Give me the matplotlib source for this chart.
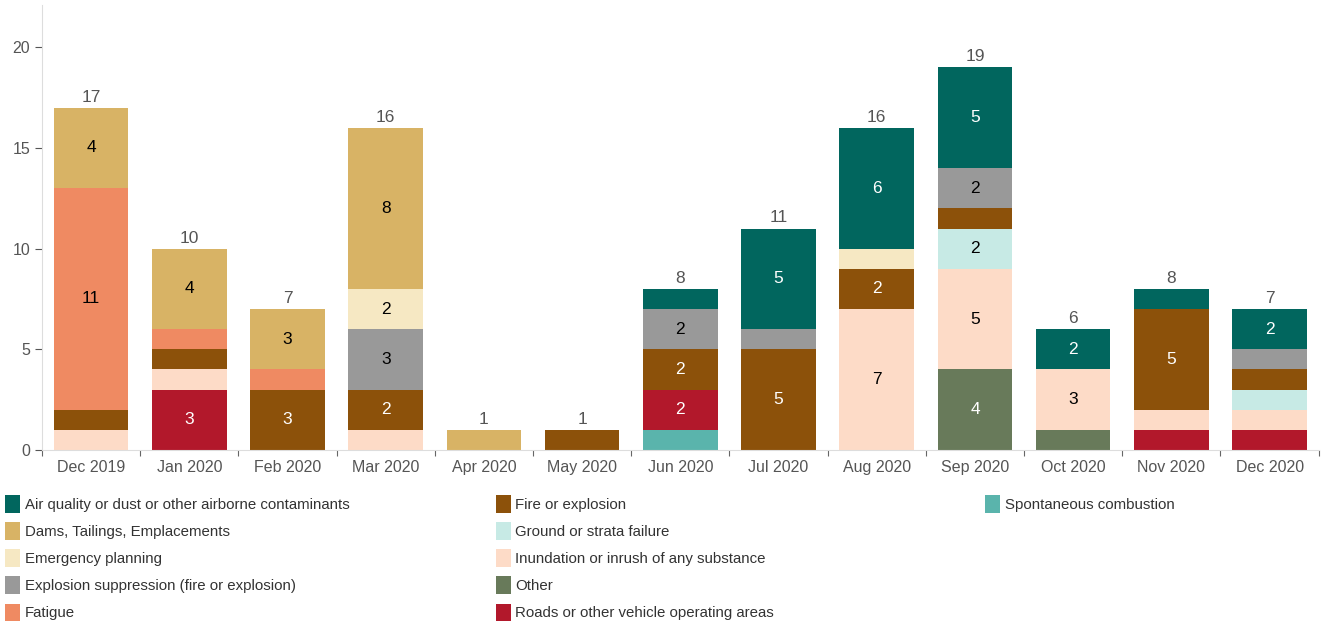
import numpy as np
import matplotlib
matplotlib.use("Agg")
import matplotlib.pyplot as plt
from matplotlib.patches import Patch

plt.rcParams['font.family'] = ['Liberation Sans', 'DejaVu Sans']

months = ['Dec 2019', 'Jan 2020', 'Feb 2020', 'Mar 2020', 'Apr 2020', 'May 2020',
          'Jun 2020', 'Jul 2020', 'Aug 2020', 'Sep 2020', 'Oct 2020', 'Nov 2020', 'Dec 2020']

# legend order (alphabetical); stacking goes the other way, bottom = last
categories = ['Air quality or dust or other airborne contaminants',
              'Dams, Tailings, Emplacements',
              'Emergency planning',
              'Explosion suppression (fire or explosion)',
              'Fatigue',
              'Fire or explosion',
              'Ground or strata failure',
              'Inundation or inrush of any substance',
              'Other',
              'Roads or other vehicle operating areas',
              'Spontaneous combustion']

air_quality   = [0, 0, 0, 0, 0, 0, 1, 5, 6, 5, 2, 1, 2]
dams          = [4, 4, 3, 8, 1, 0, 0, 0, 0, 0, 0, 0, 0]
emergency     = [0, 0, 0, 2, 0, 0, 0, 0, 1, 0, 0, 0, 0]
expl_supp     = [0, 0, 0, 3, 0, 0, 2, 1, 0, 2, 0, 0, 1]
fatigue       = [11, 1, 1, 0, 0, 0, 0, 0, 0, 0, 0, 0, 0]
fire          = [1, 1, 3, 2, 0, 1, 2, 5, 2, 1, 0, 5, 1]
ground        = [0, 0, 0, 0, 0, 0, 0, 0, 0, 2, 0, 0, 1]
inundation    = [1, 1, 0, 1, 0, 0, 0, 0, 7, 5, 3, 1, 1]
other         = [0, 0, 0, 0, 0, 0, 0, 0, 0, 4, 1, 0, 0]
roads         = [0, 3, 0, 0, 0, 0, 2, 0, 0, 0, 0, 1, 1]
spontaneous   = [0, 0, 0, 0, 0, 0, 1, 0, 0, 0, 0, 0, 0]

series = [air_quality, dams, emergency, expl_supp, fatigue, fire,
          ground, inundation, other, roads, spontaneous]
colors = ['#01665E', '#D8B365', '#F6E8C3', '#999999', '#EF8A62', '#8C510A',
          '#C7EAE5', '#FDDBC7', '#687A5A', '#B2182B', '#5AB4AC']
dark = {'#01665E', '#8C510A', '#687A5A', '#B2182B'}

fig = plt.figure(figsize=(13.32, 6.22), dpi=100)
ax = fig.add_axes([0.0315, 0.2765, 0.9585, 0.7155])

x = np.arange(len(months))
bottom = np.zeros(len(months))
for i in range(len(categories) - 1, -1, -1):
    vals = np.array(series[i], dtype=float)
    ax.bar(x, vals, 0.76, bottom=bottom, color=colors[i], linewidth=0)
    for j, v in enumerate(vals):
        if v >= 2:
            ax.text(x[j], bottom[j] + v / 2, str(int(v)), ha='center', va='center',
                    fontsize=12.5, color='white' if colors[i] in dark else 'black')
    bottom += vals

for j, t in enumerate(bottom):
    ax.text(x[j], t + 0.15, str(int(t)), ha='center', va='bottom', fontsize=12.5, color='#555555')

ax.set_xlim(-0.5, len(months) - 0.5)
ax.set_ylim(0, 22.1)
ax.set_yticks([0, 5, 10, 15, 20])
ax.tick_params(axis='y', colors='#555555', labelsize=11.5, length=5, width=0.8)
ax.set_xticks(np.arange(-0.5, len(months)), labels=[''] * (len(months) + 1))
ax.set_xticks(x, labels=months, minor=True)
ax.tick_params(axis='x', which='major', length=4, width=0.8, color='#666666')
ax.tick_params(axis='x', which='minor', length=0, labelsize=11.5, labelcolor='#555555', pad=7)

for s in ['top', 'right']:
    ax.spines[s].set_visible(False)
ax.spines['left'].set_color('#dddddd')
ax.spines['bottom'].set_color('#dddddd')

handles = [Patch(facecolor=c, edgecolor='none') for c in colors]
groups = [(0, 5, 0.004), (5, 10, 0.372), (10, 11, 0.7395)]
for a, b, xpos in groups:
    leg = fig.legend(handles[a:b], categories[a:b], loc='upper left',
                     bbox_to_anchor=(xpos, 0.204), frameon=False, fontsize=10.8,
                     handlelength=1.0, handleheight=1.45, handletextpad=0.3,
                     labelspacing=0.62, borderaxespad=0, borderpad=0)
    for t in leg.get_texts():
        t.set_color('#333333')

fig.savefig('out.png', dpi=100)
